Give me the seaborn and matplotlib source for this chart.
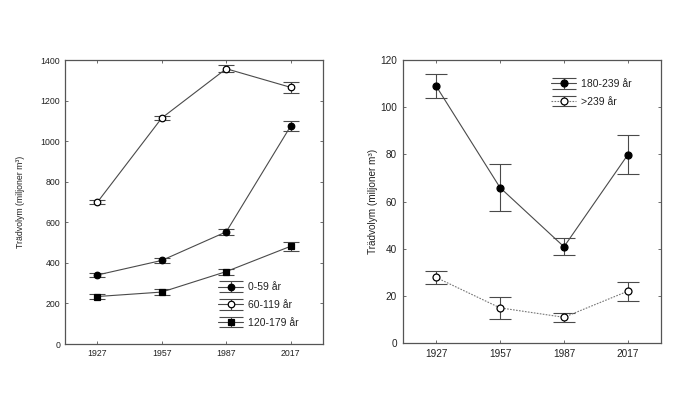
import numpy as np
import pandas as pd
import matplotlib
matplotlib.use("Agg")
import matplotlib.pyplot as plt
from matplotlib.lines import Line2D
from matplotlib.legend_handler import HandlerTuple
import seaborn as sns

years = [1927, 1957, 1987, 2017]

# Left panel
v_0_59 = [340, 412, 553, 1075]
e_0_59 = [8, 12, 14, 26]
v_60_119 = [698, 1114, 1357, 1265]
e_60_119 = [10, 12, 17, 29]
v_120_179 = [234, 256, 357, 482]
e_120_179 = [12, 15, 15, 22]

# Right panel
v_180_239 = [109.0, 65.9, 40.8, 79.9]
e_180_239 = [5.0, 9.8, 3.6, 8.4]
v_239 = [27.8, 14.9, 10.9, 22.0]
e_239 = [2.7, 4.7, 2.0, 4.0]

labels_left = ["0-59 år", "60-119 år", "120-179 år"]
labels_right = ["180-239 år", ">239 år"]
ylabel = "Trädvolym (miljoner m³)"

sns.set_style("white")
plt.rcParams["font.family"] = ["Liberation Sans", "DejaVu Sans"]

LC = "#4a4a4a"
SC = "#555555"

fig = plt.figure(figsize=(7.0, 3.94), dpi=100)
axL = fig.add_axes([65/700, 50/394, 258/700, 284/394])
axR = fig.add_axes([403/700, 51/394, 258/700, 283/394])


def draw(ax, vals, errs, marker, mfc, ls, lcolor, ms, capsize):
    df = pd.DataFrame({"year": years, "v": vals})
    sns.lineplot(data=df, x="year", y="v", ax=ax, color=lcolor, lw=0.8,
                 linestyle=ls, marker=marker, markersize=ms,
                 markerfacecolor=mfc, markeredgecolor="black",
                 markeredgewidth=0.9, zorder=3)
    ax.errorbar(years, vals, yerr=errs, fmt="none", ecolor=LC,
                elinewidth=0.8, capsize=capsize, capthick=0.8, zorder=2)
    # legend-only errorbar glyph with wide caps (no data drawn)
    legcont = ax.errorbar([np.nan], [np.nan], yerr=[[1], [1]], fmt="none",
                          ecolor=LC, elinewidth=0.8, capsize=8.3, capthick=0.8)
    proxy = Line2D([], [], color=lcolor, lw=0.8, linestyle=ls, marker=marker,
                   markersize=ms, markerfacecolor=mfc, markeredgecolor="black",
                   markeredgewidth=0.9)
    return (legcont, proxy)


hL = []
hL.append(draw(axL, v_0_59, e_0_59, "o", "black", "-", LC, 4.7, 6))
hL.append(draw(axL, v_60_119, e_60_119, "o", "white", "-", LC, 4.7, 6))
hL.append(draw(axL, v_120_179, e_120_179, "s", "black", "-", LC, 4.7, 6))

hR = []
hR.append(draw(axR, v_180_239, e_180_239, "o", "black", "-", LC, 5.0, 8))
hR.append(draw(axR, v_239, e_239, "o", "white", (0, (1.5, 1.2)), "#777777", 5.0, 8))

for ax, ylim, yt, fs, xl, pad, lc in [
    (axL, (0, 1400), np.arange(0, 1401, 200), 6.3, (1912, 2032), 3.5, -0.155),
    (axR, (0, 120), np.arange(0, 121, 20), 7.2, (1911.5, 2032.5), 4.2, -0.098),
]:
    ax.set_xlim(*xl)
    ax.set_ylim(*ylim)
    ax.set_xticks(years)
    ax.set_xticklabels([str(y) for y in years])
    ax.set_yticks(yt)
    ax.tick_params(direction="in", length=2, width=0.6, colors=SC,
                   labelcolor="#222222", labelsize=fs, pad=pad,
                   top=True, right=True, bottom=True, left=True)
    for s in ax.spines.values():
        s.set_visible(True)
        s.set_color(SC)
        s.set_linewidth(0.9)
    ax.set_xlabel("")
    ax.set_ylabel(ylabel, fontsize=fs, color="#222222")
    ax.yaxis.set_label_coords(lc, 0.5)

hmap = {tuple: HandlerTuple(ndivide=1)}
legL = axL.legend(hL, labels_left, loc="center left",
                  bbox_to_anchor=((218-65)/258, (344-305)/284),
                  frameon=False, fontsize=7.5, borderpad=0, borderaxespad=0,
                  handlelength=2.4, handletextpad=0.5, labelspacing=0.75,
                  handler_map=hmap)
legR = axR.legend(hR, labels_right, loc="center left",
                  bbox_to_anchor=((551-403)/258, (343-93)/283),
                  frameon=False, fontsize=7.5, borderpad=0, borderaxespad=0,
                  handlelength=2.4, handletextpad=0.5, labelspacing=0.75,
                  handler_map=hmap)
for leg in (legL, legR):
    for t in leg.get_texts():
        t.set_color("#222222")

fig.savefig("out.png", dpi=100)
